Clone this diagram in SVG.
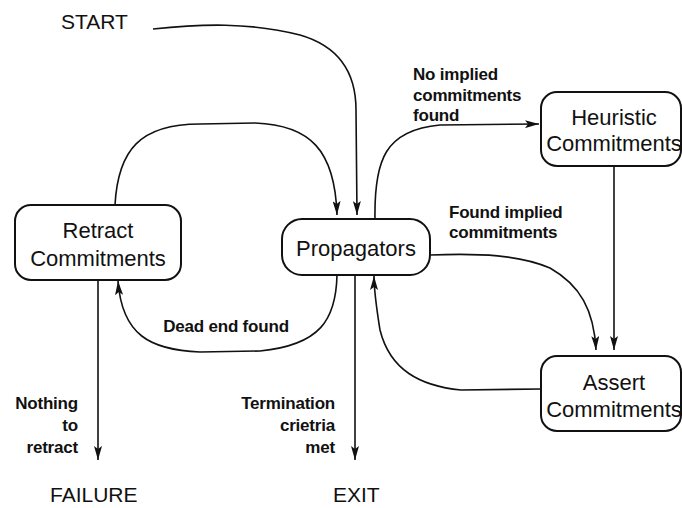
<svg xmlns="http://www.w3.org/2000/svg" width="682" height="508" viewBox="0 0 682 508">
  <style>
    .box { fill: #fff; stroke: #111; stroke-width: 2; }
    .node { font-family: "Liberation Sans", Arial, sans-serif; font-size: 22px; fill: #111; text-anchor: middle; }
    .term { font-family: "Liberation Sans", Arial, sans-serif; font-size: 21px; fill: #111; }
    .lbl { font-family: "Liberation Sans", Arial, sans-serif; font-size: 17px; font-weight: bold; fill: #111; letter-spacing: -0.2px; }
    .edge { fill: none; stroke: #111; stroke-width: 1.6; marker-end: url(#arrow); }
  </style>
  <defs>
    <marker id="arrow" viewBox="0 0 14 8" refX="14" refY="4" markerWidth="14" markerHeight="8" markerUnits="userSpaceOnUse" orient="auto">
      <path d="M0,0 L14,4 L0,8 L3,4 z" fill="#111"/>
    </marker>
  </defs>

  <rect width="682" height="508" fill="#fff"/>

  <!-- terminal labels -->
  <text class="term" x="61" y="29">START</text>
  <text class="term" x="50" y="502">FAILURE</text>
  <text class="term" x="333" y="502">EXIT</text>

  <!-- connectors -->
  <g id="connectors">
    <path class="edge" d="M153,29 C200,24 250,22 300,35 C345,48 356,80 356,110 L357,215"/>
    <path class="edge" d="M115,205 C118,150 140,124 200,124 L255,123 C310,125 335,150 337,215"/>
    <path class="edge" d="M375,219 C374,160 385,130 440,125 L539,124"/>
    <path class="edge" d="M614,166 L614,350"/>
    <path class="edge" d="M430,255 C480,253 520,255 550,268 C580,285 594,310 596,350"/>
    <path class="edge" d="M541,389 L461,390 C420,386 390,370 380,330 C376,305 374,292 374,276"/>
    <path class="edge" d="M355,275 L355,460"/>
    <path class="edge" d="M337,275 C336,320 320,345 260,351 L200,352 C150,350 122,335 118,281"/>
    <path class="edge" d="M98,280 L98,460"/>

    <text class="lbl" x="413" y="80">No implied</text>
    <text class="lbl" x="413" y="101">commitments</text>
    <text class="lbl" x="413" y="121">found</text>
    <text class="lbl" x="449" y="218">Found implied</text>
    <text class="lbl" x="449" y="238">commitments</text>
    <text class="lbl" x="226" y="332" text-anchor="middle">Dead end found</text>
    <text class="lbl" x="78" y="409" text-anchor="end">Nothing</text>
    <text class="lbl" x="78" y="431" text-anchor="end">to</text>
    <text class="lbl" x="78" y="453" text-anchor="end">retract</text>
    <text class="lbl" x="335" y="409" text-anchor="end">Termination</text>
    <text class="lbl" x="335" y="431" text-anchor="end">crietria</text>
    <text class="lbl" x="335" y="453" text-anchor="end">met</text>
  </g>

  <!-- nodes -->
  <g id="retract">
    <rect class="box" x="15" y="205" width="166" height="75" rx="16" ry="16"/>
    <text class="node" x="98" y="238">Retract</text>
    <text class="node" x="98" y="266">Commitments</text>
  </g>
  <g id="propagators">
    <rect class="box" x="282" y="219" width="148" height="56" rx="20" ry="20"/>
    <text class="node" x="356" y="256">Propagators</text>
  </g>
  <g id="heuristic">
    <rect class="box" x="541" y="92" width="140" height="74" rx="16" ry="16"/>
    <text class="node" x="614" y="125">Heuristic</text>
    <text class="node" x="614" y="151">Commitments</text>
  </g>
  <g id="assert">
    <rect class="box" x="541" y="356" width="140" height="75" rx="16" ry="16"/>
    <text class="node" x="614" y="390">Assert</text>
    <text class="node" x="614" y="417">Commitments</text>
  </g>
</svg>
